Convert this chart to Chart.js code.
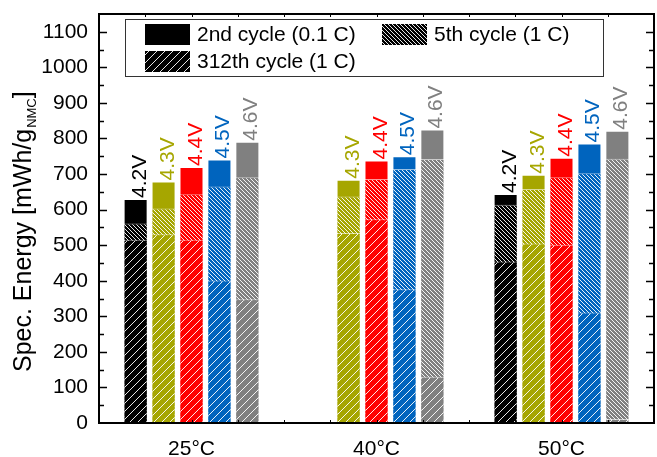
<!DOCTYPE html>
<html>
<head>
<meta charset="utf-8">
<script src="https://cdn.jsdelivr.net/npm/chart.js@4"></script>
<style>
  html, body { margin: 0; padding: 0; background: #fff; }
</style>
</head>
<body>
<canvas id="chart" width="657" height="457"></canvas>
<script>
const categories = ['25°C', '40°C', '50°C'];
const voltages = ['4.2V', '4.3V', '4.4V', '4.5V', '4.6V'];
// rows: 4.2V .. 4.6V, columns: 25°C, 40°C, 50°C  (mWh/g NMC)
const cycle2nd = [
    [630, null, 644],
    [679, 684, 698],
    [720, 738, 746],
    [741, 750, 786],
    [791, 825, 822]
];
const cycle5th = [
    [561, null, 614],
    [603, 637, 658],
    [643, 686, 691],
    [665, 714, 702],
    [691, 742, 743]
];
const cycle312th = [
    [515, null, 454],
    [531, 534, 505],
    [515, 573, 501],
    [401, 376, 311],
    [348, 130, 11]
];
const seriesNames = ['2nd cycle (0.1 C)', '5th cycle (1 C)', '312th cycle (1 C)'];
const yMax = 1150;
const yStep = 50;

const colors = ['#000000', '#a6a600', '#ff0000', '#0064be', '#808080'];
const FONT = '"Liberation Sans", Arial, sans-serif';

// hatch fills: 'back' = dense \\\ (5th cycle), 'fwd' = sparse /// (312th cycle)
function hatch(color, kind) {
    const s = kind === 'back' ? 4 : 8;
    const c = document.createElement('canvas');
    c.width = s; c.height = s;
    const g = c.getContext('2d');
    g.fillStyle = color;
    g.fillRect(0, 0, s, s);
    g.strokeStyle = 'rgba(255,255,255,0.9)';
    g.lineWidth = 1;
    g.beginPath();
    for (const k of [-s, 0, s]) {
        if (kind === 'back') { g.moveTo(k, 0); g.lineTo(k + s, s); }
        else { g.moveTo(k, s); g.lineTo(k + s, 0); }
    }
    g.stroke();
    return g.createPattern(c, 'repeat');
}

const datasets = [];
voltages.forEach((v, i) => {
    const common = {
        stack: 'v' + i,
        borderColor: 'rgba(255,255,255,0.6)',
        borderWidth: 1,
        borderSkipped: false,
        categoryPercentage: 0.755,
        barPercentage: 0.86
    };
    datasets.push(Object.assign({ label: seriesNames[0], data: cycle2nd[i], backgroundColor: colors[i], order: 2 }, common));
    datasets.push(Object.assign({ label: seriesNames[1], data: cycle5th[i], backgroundColor: hatch(colors[i], 'back'), order: 1 }, common));
    datasets.push(Object.assign({ label: seriesNames[2], data: cycle312th[i], backgroundColor: hatch(colors[i], 'fwd'), order: 0 }, common));
});

const decorations = {
    id: 'decorations',
    afterDatasetsDraw(chart) {
        const ctx = chart.ctx;
        const a = chart.chartArea;
        const y = chart.scales.y;
        ctx.save();

        // voltage labels above each bar
        ctx.font = '21px ' + FONT;
        ctx.textAlign = 'left';
        ctx.textBaseline = 'alphabetic';
        voltages.forEach((v, i) => {
            const meta = chart.getDatasetMeta(i * 3);
            meta.data.forEach((bar, j) => {
                if (cycle2nd[i][j] == null) return;
                ctx.save();
                ctx.fillStyle = colors[i];
                ctx.translate(bar.x + 10, bar.y - 1);
                ctx.rotate(-Math.PI / 2);
                ctx.fillText(v, 0, 0);
                ctx.restore();
            });
        });

        // frame
        ctx.strokeStyle = '#000';
        ctx.lineWidth = 2;
        ctx.strokeRect(a.left, a.top, a.right - a.left, a.bottom - a.top);

        // inward ticks, left and right
        ctx.lineWidth = 1.5;
        ctx.beginPath();
        for (let v = yStep; v < yMax; v += yStep) {
            const py = Math.round(y.getPixelForValue(v)) + 0.5;
            const len = v % 100 === 0 ? 8 : 5;
            ctx.moveTo(a.left, py); ctx.lineTo(a.left + len, py);
            ctx.moveTo(a.right, py); ctx.lineTo(a.right - len, py);
        }
        ctx.stroke();

        // small ticks along top and bottom
        ctx.lineWidth = 1;
        ctx.beginPath();
        const w = (a.right - a.left) / (categories.length * 4);
        for (let k = 1; k < categories.length * 4; k++) {
            const px = Math.round(a.left + k * w) + 0.5;
            ctx.moveTo(px, a.bottom); ctx.lineTo(px, a.bottom - 3);
            ctx.moveTo(px, a.top); ctx.lineTo(px, a.top + 3);
        }
        ctx.stroke();

        // legend
        ctx.fillStyle = '#fff';
        ctx.fillRect(125, 19, 479, 58);
        ctx.strokeStyle = '#333';
        ctx.lineWidth = 1;
        ctx.strokeRect(125.5, 19.5, 478, 57);
        const items = [
            { fill: '#000', x: 145, y: 24 },
            { fill: hatch('#000', 'back'), x: 382, y: 24 },
            { fill: hatch('#000', 'fwd'), x: 145, y: 51 }
        ];
        ctx.font = '21px ' + FONT;
        ctx.textBaseline = 'middle';
        items.forEach((it, k) => {
            ctx.fillStyle = it.fill;
            ctx.fillRect(it.x, it.y, 45, 21);
            ctx.fillStyle = '#000';
            ctx.fillText(seriesNames[k], it.x + 52, it.y + 11);
        });

        // y axis title with subscript
        ctx.save();
        ctx.translate(31, 372);
        ctx.rotate(-Math.PI / 2);
        ctx.fillStyle = '#000';
        ctx.textBaseline = 'alphabetic';
        ctx.font = '25px ' + FONT;
        const main = 'Spec. Energy [mWh/g';
        ctx.fillText(main, 0, 0);
        let off = ctx.measureText(main).width + 1;
        ctx.font = '13px ' + FONT;
        ctx.fillText('NMC', off, 5);
        off += ctx.measureText('NMC').width;
        ctx.font = '25px ' + FONT;
        ctx.fillText(']', off, 0);
        ctx.restore();

        ctx.restore();
    }
};

new Chart(document.getElementById('chart'), {
    type: 'bar',
    data: { labels: categories, datasets: datasets },
    options: {
        responsive: false,
        animation: false,
        devicePixelRatio: 1,
        layout: { padding: { top: 14, right: 3, left: 0, bottom: 0 } },
        plugins: {
            legend: { display: false },
            tooltip: { enabled: false }
        },
        scales: {
            x: {
                offset: true,
                grid: { display: false, drawTicks: false },
                border: { display: false },
                ticks: { color: '#000', font: { size: 21, family: FONT }, padding: 14 },
                afterFit(s) { s.height = 34; s.paddingLeft = 0; s.paddingRight = 0; }
            },
            y: {
                min: 0,
                max: yMax,
                stacked: false,
                grid: { display: false, drawTicks: false },
                border: { display: false },
                ticks: {
                    stepSize: yStep,
                    autoSkip: false,
                    color: '#000',
                    font: { size: 21, family: FONT },
                    padding: 11,
                    callback: v => (v % 100 === 0 ? String(v) : '')
                },
                afterFit(s) { s.width = 99; s.paddingTop = 0; s.paddingBottom = 0; }
            }
        }
    },
    plugins: [decorations]
});
</script>
</body>
</html>
